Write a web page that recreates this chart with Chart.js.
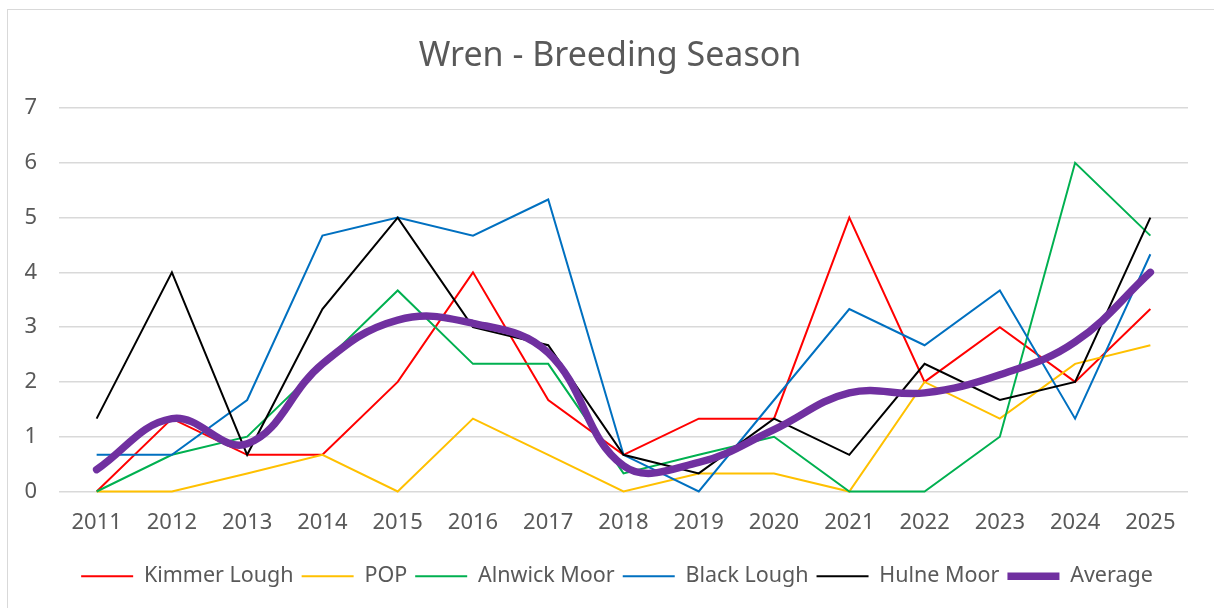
<!DOCTYPE html>
<html>
<head>
<meta charset="utf-8">
<script src="https://cdn.jsdelivr.net/npm/chart.js@4"></script>
<style>
  html, body { margin: 0; padding: 0; background: #fff; }
  #wrap { position: relative; width: 1214px; height: 608px; overflow: hidden; }
  #frame { position: absolute; left: 7px; top: 9px; width: 1220px; height: 620px; border: 1px solid #d9d9d9; box-sizing: border-box; }
  #myChart { position: absolute; left: 0; top: 0; }
</style>
</head>
<body>
<div id="wrap">
  <div id="frame"></div>
  <canvas id="myChart" width="1214" height="608"></canvas>
</div>
<script>
// years on the x axis
const years = ["2011", "2012", "2013", "2014", "2015", "2016", "2017", "2018",
  "2019", "2020", "2021", "2022", "2023", "2024", "2025"];

// values per site
const kimmerLough = [0, 1.33, 0.67, 0.67, 2, 4, 1.67, 0.67, 1.33, 1.33, 5, 2, 3, 2, 3.33];
const pop = [0, 0, 0.33, 0.67, 0, 1.33, 0.67, 0, 0.33, 0.33, 0, 2, 1.33, 2.33, 2.67];
const alnwickMoor = [0, 0.67, 1, 2.33, 3.67, 2.33, 2.33, 0.33, 0.67, 1, 0, 0, 1, 6, 4.67];
const blackLough = [0.67, 0.67, 1.67, 4.67, 5, 4.67, 5.33, 0.67, 0, 1.67, 3.33, 2.67, 3.67, 1.33, 4.33];
const hulneMoor = [1.33, 4, 0.67, 3.33, 5, 3, 2.67, 0.67, 0.33, 1.33, 0.67, 2.33, 1.67, 2, 5];
const average = [0.4, 1.33, 0.87, 2.33, 3.13, 3.07, 2.53, 0.47, 0.53, 1.13, 1.8, 1.8, 2.13, 2.73, 4];

// y axis
const yTicks = [0, 1, 2, 3, 4, 5, 6, 7];

const textColor = "#595959";
const fontFamily = "'Noto Sans', 'Open Sans', sans-serif";

function site(label, data, color, order) {
  return {
    label: label,
    data: data,
    borderColor: color,
    backgroundColor: color,
    borderWidth: 2,
    pointRadius: 0,
    pointStyle: "line",
    tension: 0,
    clip: false,
    order: order
  };
}

// title and legend sit a bit right of the plot centre, like the excel original
const nudgeBoxes = {
  id: "nudgeBoxes",
  afterLayout(chart) {
    chart.titleBlock.left += 16;
    chart.titleBlock.right += 16;
    chart.legend.left += 23;
    chart.legend.right += 23;
  }
};

const ctx = document.getElementById("myChart").getContext("2d");
const chart = new Chart(ctx, {
  type: "line",
  data: {
    labels: years,
    datasets: [
      site("Kimmer Lough", kimmerLough, "#FF0000", 5),
      site("POP", pop, "#FFC000", 4),
      site("Alnwick Moor", alnwickMoor, "#00B050", 3),
      site("Black Lough", blackLough, "#0070C0", 2),
      site("Hulne Moor", hulneMoor, "#000000", 1),
      {
        label: "Average",
        data: average,
        borderColor: "#7030A0",
        backgroundColor: "#7030A0",
        borderWidth: 7.5,
        borderCapStyle: "round",
        borderJoinStyle: "round",
        pointRadius: 0,
        pointStyle: "line",
        tension: 0.4,
        clip: false,
        order: 0
      }
    ]
  },
  plugins: [nudgeBoxes],
  options: {
    responsive: false,
    animation: false,
    layout: { padding: { left: 0, right: 26, top: 0, bottom: 11 } },
    plugins: {
      title: {
        display: true,
        text: "Wren - Breeding Season",
        color: textColor,
        font: { family: fontFamily, size: 34, weight: "normal" },
        padding: { top: 35.6, bottom: 31.6 }
      },
      legend: {
        position: "bottom",
        labels: {
          color: textColor,
          font: { family: fontFamily, size: 21.5 },
          usePointStyle: true,
          pointStyleWidth: 52,
          padding: 8,
          sort: (a, b) => a.datasetIndex - b.datasetIndex
        }
      },
      tooltip: { enabled: false }
    },
    scales: {
      x: {
        offset: true,
        grid: { display: false, drawTicks: false },
        border: { display: false },
        afterFit: (scale) => { scale.height = 66; },
        ticks: {
          color: textColor,
          font: { family: fontFamily, size: 22 },
          padding: 18,
          maxRotation: 0
        }
      },
      y: {
        min: 0,
        max: 7,
        afterBuildTicks: (scale) => { scale.ticks = yTicks.map(v => ({ value: v })); },
        afterFit: (scale) => { scale.width = 59; },
        grid: { color: "#d9d9d9", lineWidth: 1.5, drawTicks: false },
        border: { display: false },
        ticks: {
          color: textColor,
          font: { family: fontFamily, size: 22 },
          padding: 22
        }
      }
    }
  }
});
</script>
</body>
</html>
